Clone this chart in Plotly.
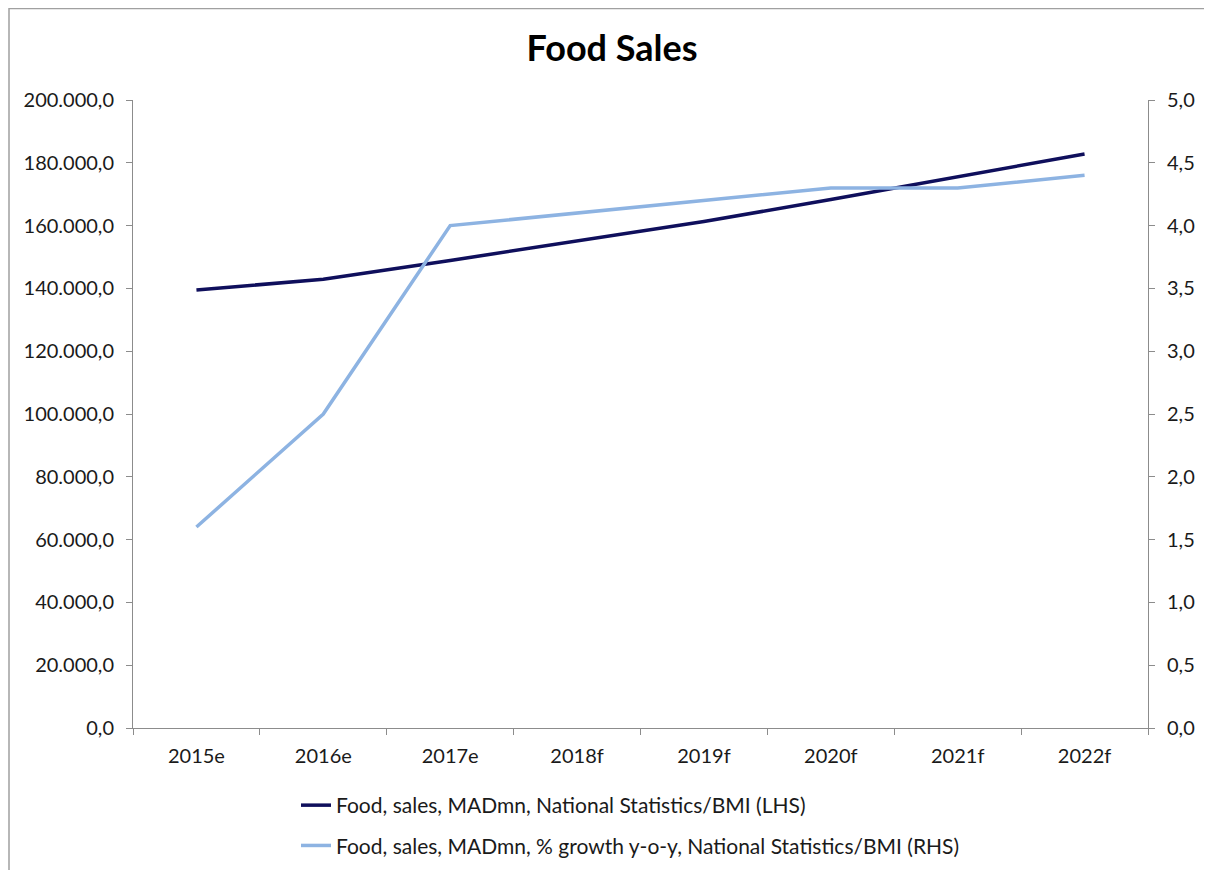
import plotly.graph_objects as go

categories = ["2015e", "2016e", "2017e", "2018f", "2019f", "2020f", "2021f", "2022f"]
sales_lhs = [139500, 142900, 148900, 155000, 161300, 168300, 175600, 182800]
growth_rhs = [1.6, 2.5, 4.0, 4.1, 4.2, 4.3, 4.3, 4.4]

name_lhs = "Food, sales, MADmn, National Statistics/BMI (LHS)"
name_rhs = "Food, sales, MADmn, % growth y-o-y, National Statistics/BMI (RHS)"

FONT = "Lato"
W, H = 1212, 870
OFF = 8  # page body margin
L, T = 133 - OFF, 100 - OFF
pw, ph = 1015, 628
R = W - L - pw
B = H - T - ph
BOT = T + ph  # x-axis pixel in figure coords

fig = go.Figure()
fig.add_trace(go.Scatter(x=categories, y=sales_lhs, name=name_lhs, mode="lines",
                         line=dict(color="#0f0f5c", width=3.5), legendgroup="a"))
fig.add_trace(go.Scatter(x=categories, y=growth_rhs, name=name_rhs, mode="lines",
                         line=dict(color="#8db3e2", width=3.5), yaxis="y2", legendgroup="b"))

axis_col = "#8c8c8c"
tf = dict(size=20, color="#1a1a1a")
fig.update_layout(
    width=W, height=H,
    margin=dict(l=L, r=R, t=T, b=B, autoexpand=False),
    paper_bgcolor="white", plot_bgcolor="white",
    separators=",.",
    font=dict(family=FONT, size=20, color="#1a1a1a"),
    title=dict(text="<b>Food Sales</b>", x=(612 - OFF) / W, xanchor="center",
               y=1 - (48 - OFF) / H, yanchor="middle",
               font=dict(family=FONT, size=36, color="black")),
    xaxis=dict(type="category", showgrid=False, showline=True, linecolor=axis_col, linewidth=1,
               ticks="outside", tickson="boundaries", ticklen=6, tickcolor=axis_col,
               range=[-0.5, 7.5], tickfont=tf, ticklabelstandoff=10),
    yaxis=dict(range=[0, 200000], dtick=20000, tickformat=",.1f", showgrid=False,
               showline=True, linecolor=axis_col, ticks="outside", ticklen=6, tickcolor=axis_col,
               zeroline=False, tickfont=tf, ticklabelstandoff=8),
    yaxis2=dict(range=[0, 5], dtick=0.5, tickformat=".1f", overlaying="y", side="right",
                showgrid=False, showline=True, linecolor=axis_col, ticks="outside", ticklen=6,
                tickcolor=axis_col, zeroline=False, tickfont=tf, ticklabelstandoff=8),
    showlegend=True,
    legend=dict(x=(296 - OFF - L) / pw, xanchor="left", y=(BOT - 777) / ph, yanchor="top",
                orientation="v", tracegroupgap=10, font=dict(size=21, color="#1a1a1a"),
                bgcolor="rgba(0,0,0,0)"),
)

fig.add_shape(type="rect", xref="paper", yref="paper",
              x0=(1 - L) / pw, x1=(W + 10 - L) / pw,
              y0=(BOT - (H + 10)) / ph, y1=(BOT - 0.5) / ph,
              line=dict(color="#a0a0a0", width=1.5), fillcolor="rgba(0,0,0,0)", layer="below")

fig.write_html("out.html")
